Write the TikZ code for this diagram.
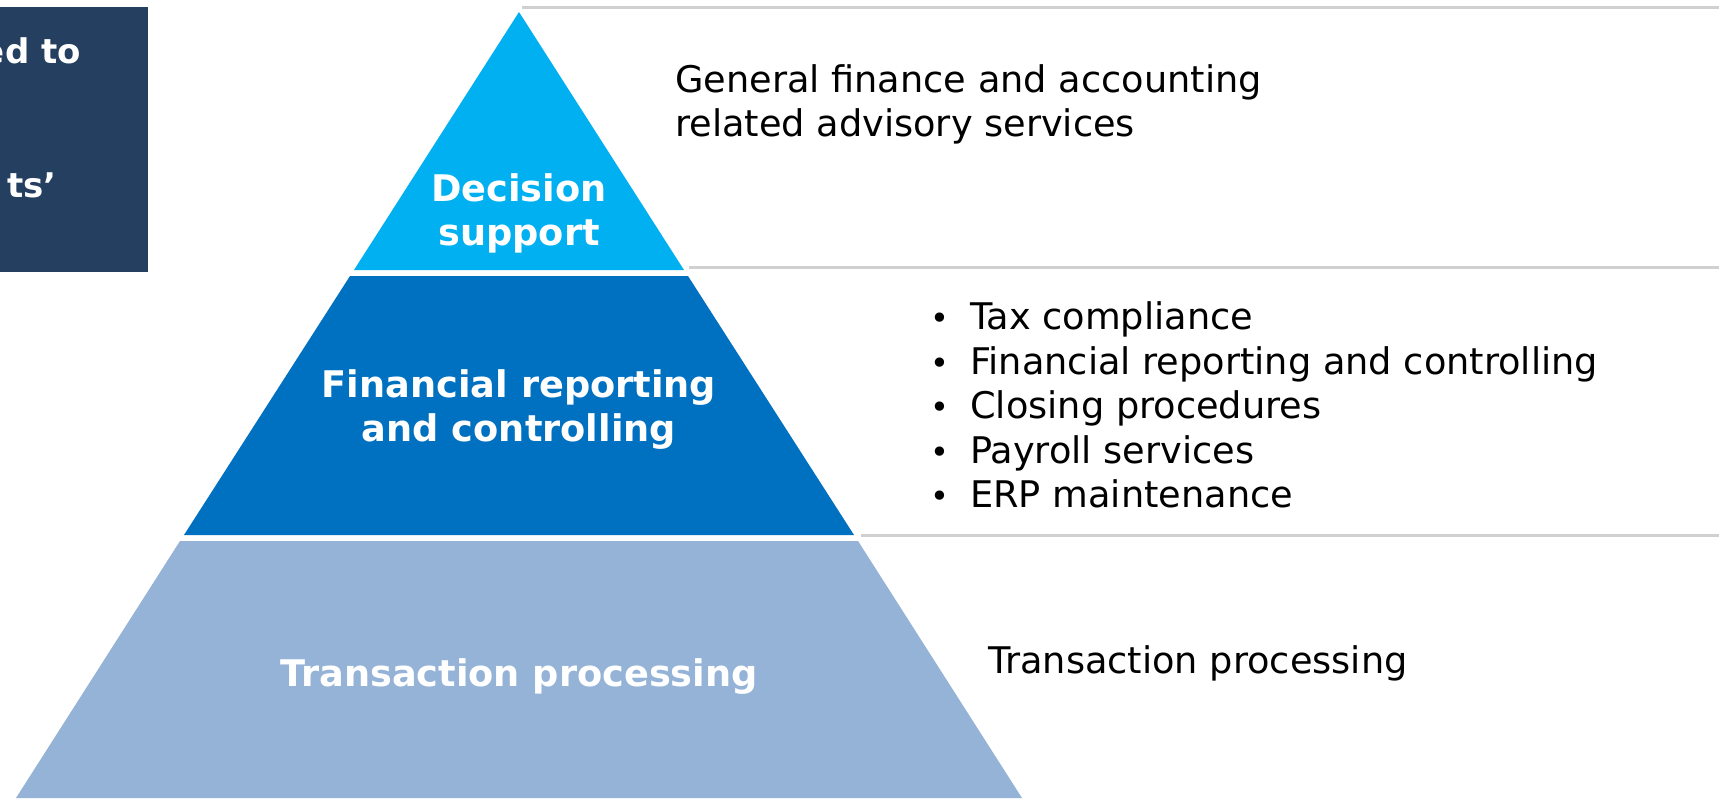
\documentclass[tikz,border=0pt]{standalone}
\usepackage{fontspec}
\setmainfont{DejaVu Sans}
\definecolor{boxc}{HTML}{243F60}
\definecolor{topc}{HTML}{00B0F0}
\definecolor{midc}{HTML}{0070C0}
\definecolor{botc}{HTML}{95B3D7}
\definecolor{sepc}{HTML}{D0D0D0}
\newcommand{\bulitem}{\makebox[42pt][l]{\hspace{2pt}{\fontsize{32}{32}\selectfont •}}}
\begin{document}
\begin{tikzpicture}[x=1pt,y=-1pt,
  layerlab/.style={font=\fontsize{36.7}{44}\selectfont\bfseries, text=white, align=center, inner sep=0pt},
  boxlab/.style={font=\fontsize{34}{41}\selectfont\bfseries, text=white, inner sep=0pt, anchor=base east},
  desc/.style={font=\fontsize{36.7}{44.5}\selectfont, text=black, align=left, inner sep=0pt, anchor=west},
  sepline/.style={draw=sepc, line width=3pt}]
\useasboundingbox (0,0) rectangle (1719,798);
\fill[white] (0,0) rectangle (1719,798);
% dark box at left
\fill[boxc] (0,7) rectangle (148,272);
\node[boxlab] (b1) at (81,63) {ed to};
\node[boxlab] (b2) at (57,197) {ts’};
% separator lines
\draw[sepline] (522,7) -- (1719,7);
\draw[sepline] (689,267) -- (1719,267);
\draw[sepline] (861,535) -- (1719,535);
% pyramid layers
\fill[topc] (519,12) -- (684,270) -- (354,270) -- cycle;
\fill[midc] (350,276) -- (688,276) -- (854,535) -- (184,535) -- cycle;
\fill[botc] (180,541) -- (858,541) -- (1022,798) -- (16,798) -- cycle;
% layer labels
\node[layerlab] (l1) at (519,213) {Decision\\support};
\node[layerlab] (l2) at (519,410) {Financial reporting\\and controlling};
\node[layerlab] (l3) at (519,676.4) {Transaction processing};
% descriptions
\node[desc] (d1) at (675,104.4) {General finance and accounting\\related advisory services};
\node[desc] (d2) at (928,405) {\bulitem Tax compliance\\\bulitem Financial reporting and controlling\\\bulitem Closing procedures\\\bulitem Payroll services\\\bulitem ERP maintenance};
\node[desc] (d3) at (988,663) {Transaction processing};
\end{tikzpicture}
\end{document}
